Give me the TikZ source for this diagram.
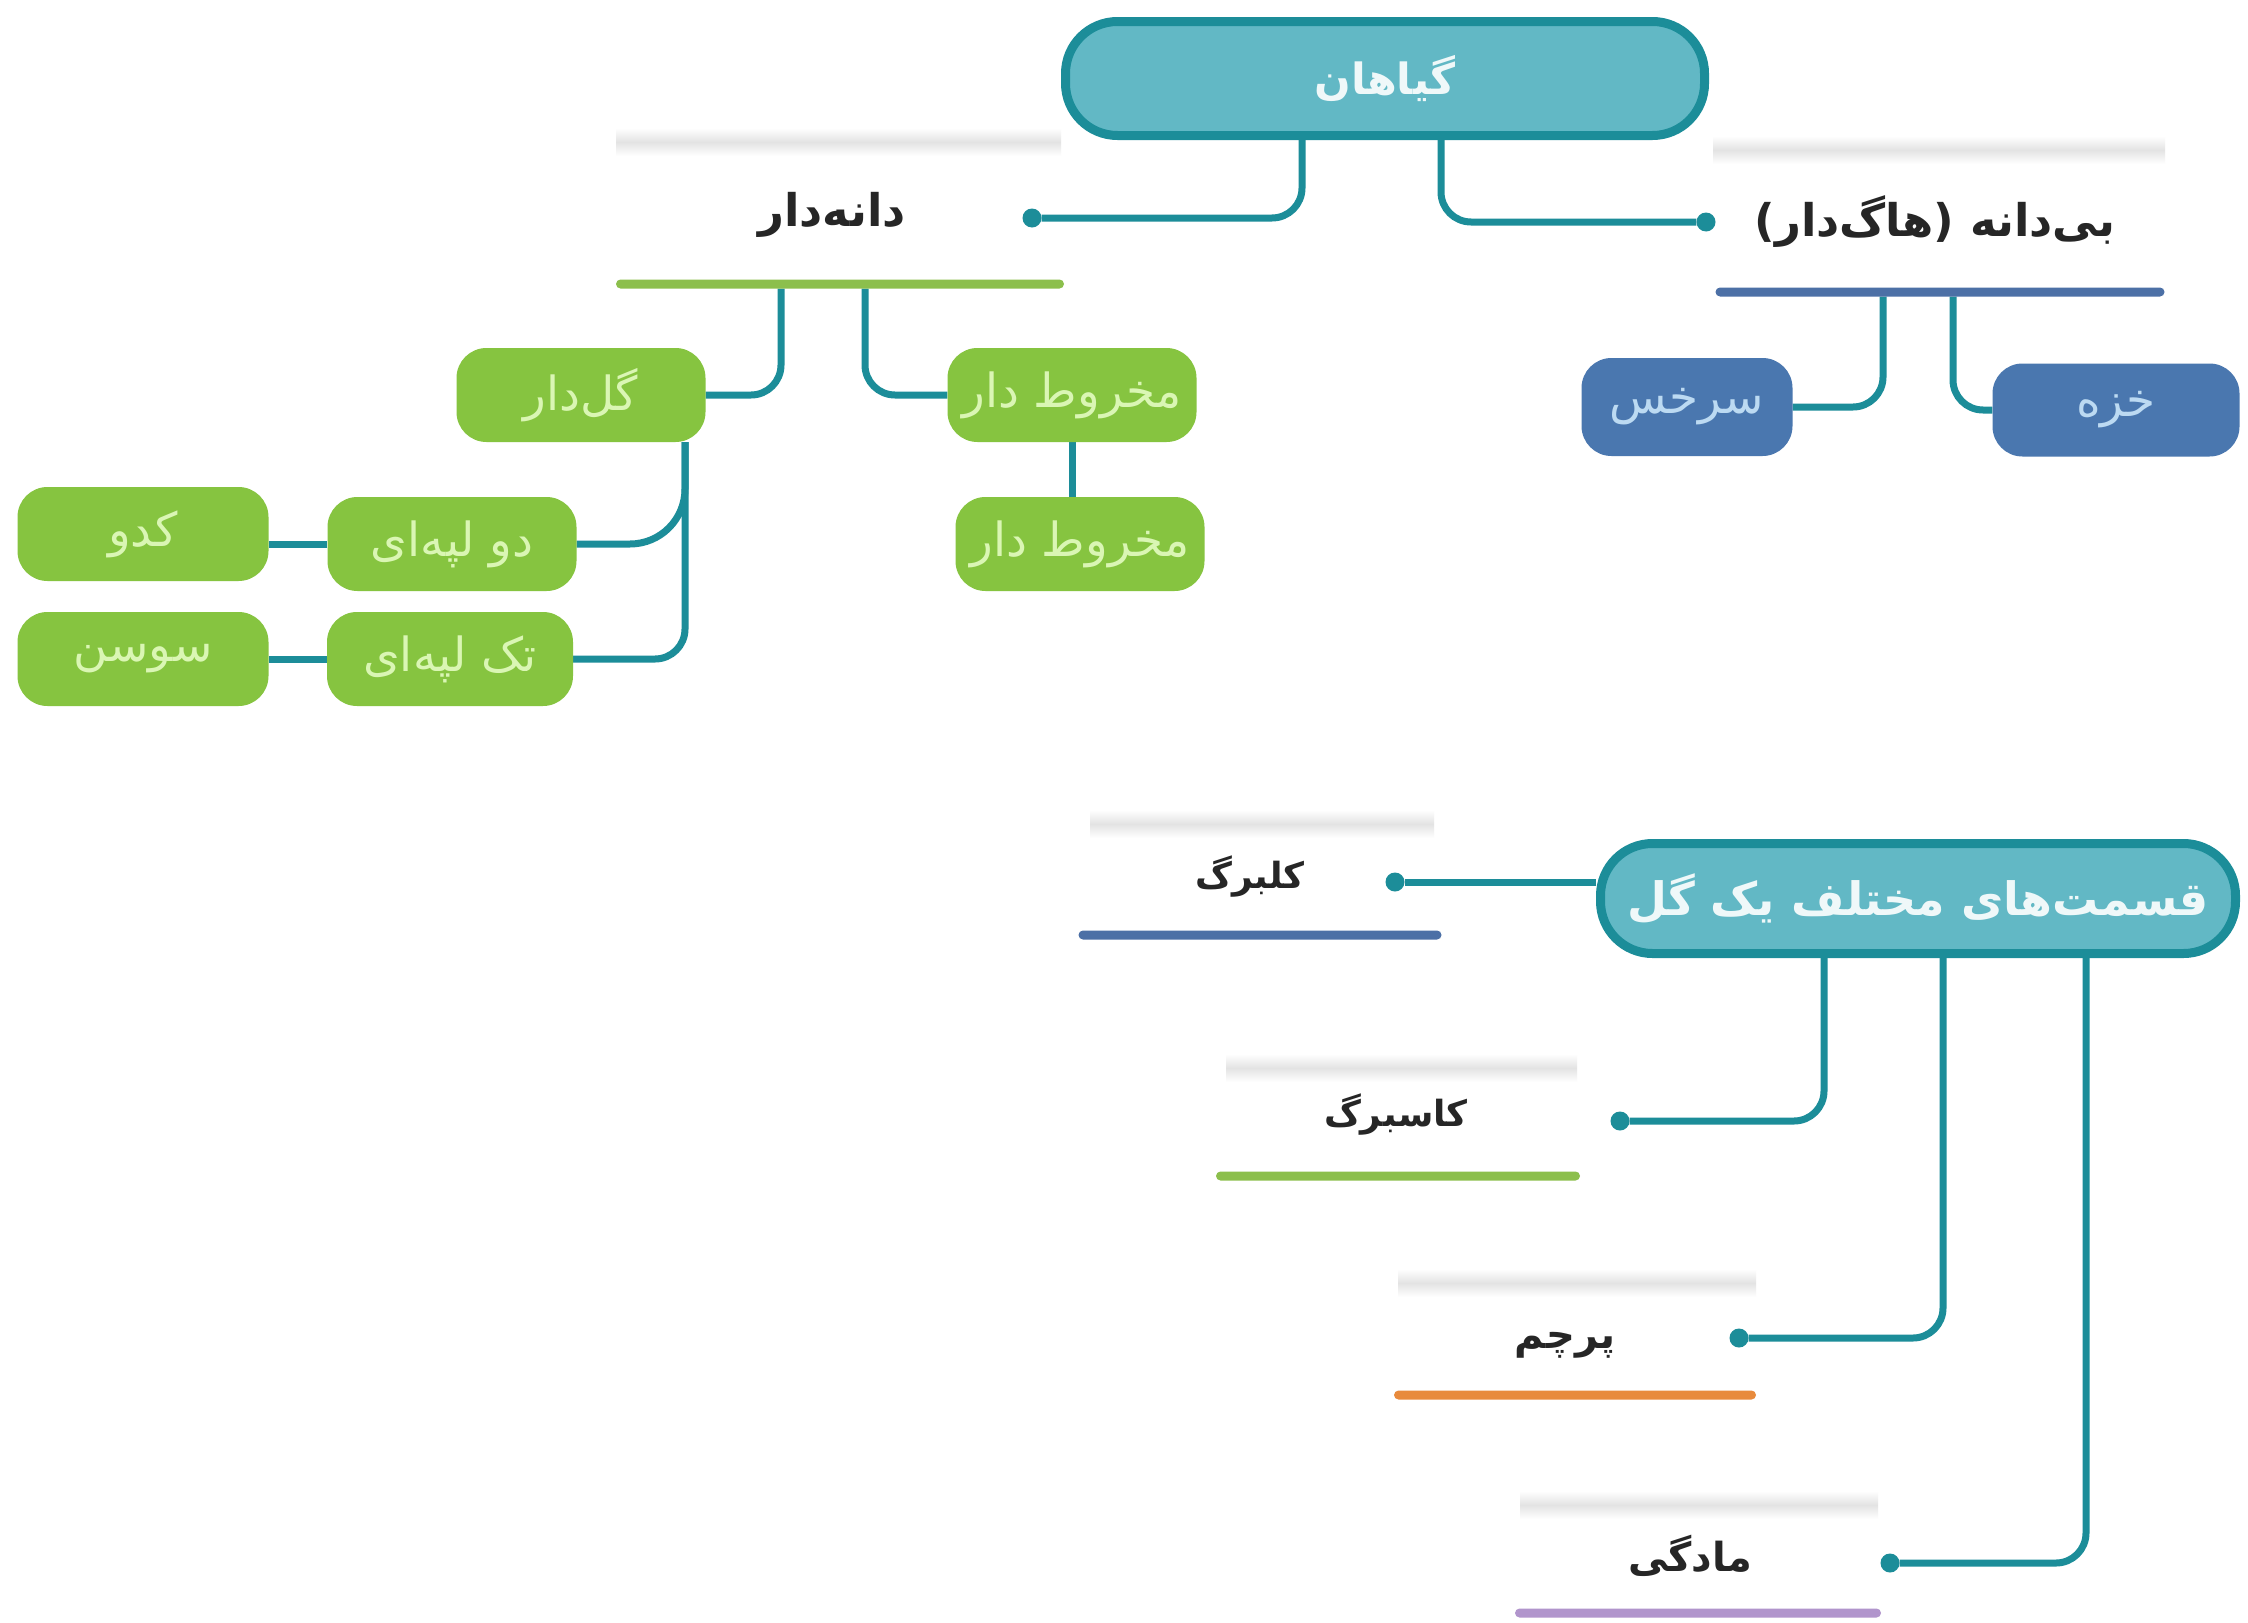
\documentclass[tikz,border=0pt]{standalone}
\usepackage{fontspec}
\usetikzlibrary{backgrounds}
\newfontfamily\fa[Script=Arabic]{DejaVu Sans}
\newfontfamily\falat{DejaVu Sans}
\TeXXeTstate=1
\definecolor{tealc}{HTML}{1C8D99}
\definecolor{tealf}{HTML}{62B8C5}
\definecolor{greenf}{HTML}{86C440}
\definecolor{greent}{HTML}{DAF6B4}
\definecolor{bluef}{HTML}{4A77AF}
\definecolor{bluet}{HTML}{BCDAF2}
\definecolor{gline}{HTML}{8CBF4C}
\definecolor{bline}{HTML}{4C70A6}
\definecolor{oline}{HTML}{E88A3C}
\definecolor{pline}{HTML}{B195CC}
\begin{document}
\begin{tikzpicture}[x=1pt,y=-1pt,
 conn/.style={draw=tealc, line width=7pt, rounded corners=30pt},
 enddot/.style={circle, fill=tealc, inner sep=0pt, minimum size=19pt},
 mainbox/.style={draw=tealc, line width=9pt, fill=tealf, rounded corners=52pt, text=white!90!tealf, font=\fa\bfseries\fontsize{46}{55}\selectfont, inner sep=0pt},
 gbox/.style={fill=greenf, rounded corners=30pt, minimum width=249pt, minimum height=94pt, text=greent, font=\fa\fontsize{47}{56}\selectfont, inner sep=0pt},
 bbox/.style={gbox, fill=bluef, text=bluet},
 lbl/.style={text=black!85, font=\fa\bfseries\fontsize{40}{48}\selectfont, inner sep=0pt},
 biglbl/.style={lbl, font=\fa\bfseries\fontsize{45}{54}\selectfont},
 smalllbl/.style={lbl, font=\fa\bfseries\fontsize{36}{44}\selectfont},
 uline/.style={inner sep=0pt, minimum height=9pt, rounded corners=4.5pt},
 shadowband/.style={top color=white, bottom color=white, middle color=black!11, draw=none}
]
\useasboundingbox (0,0) rectangle (2248,1622);

% main boxes
\node[mainbox, minimum width=639pt, minimum height=114pt, font=\fa\bfseries\fontsize{43}{52}\selectfont] (top) at (1385,78.5) {گیاهان};
\node[mainbox, minimum width=635pt, minimum height=110pt] (flower) at (1918,898.5) {\beginR قسمت^^^^200cهای مختلف یک گل\endR};

% seed branch
\node[biglbl] (seed) at (832,215) {دانه^^^^200cدار};
\node[enddot] (dotSeed) at (1032,218) {};
\node[uline, fill=gline, minimum width=448pt] (gl) at (840,284) {};
\node[gbox] (gol) at (581,395) {گل^^^^200cدار};
\node[gbox] (makh1) at (1072,395) {\beginR مخروط دار\endR};
\node[gbox] (makh2) at (1080,544) {\beginR مخروط دار\endR};
\node[gbox] (do) at (452,544) {\beginR دو لپه^^^^200cای\endR};
\node[gbox, minimum width=251pt] (kadu) at (143,534) {کدو};
\node[gbox, minimum width=246pt] (tak) at (450,659) {\beginR تک لپه^^^^200cای\endR};
\node[gbox, minimum width=251pt] (susan) at (143,659) {سوسن};

% seedless branch
\node[biglbl] (noseed) at (1935,222) {{\falat\bfseries(}هاگ^^^^200cدار{\falat\bfseries)} بی^^^^200cدانه};
\node[enddot] (dotNo) at (1706,222) {};
\node[uline, fill=bline, minimum width=449pt] (bl) at (1940,292) {};
\node[bbox, minimum width=211pt, minimum height=98pt] (sarkhas) at (1687,407) {سرخس};
\node[bbox, minimum width=247pt, minimum height=93pt] (khaze) at (2116,410) {خزه};

% flower parts
\node[smalllbl] (kal) at (1250,877) {کلبرگ};
\node[enddot] (dotKal) at (1395,882) {};
\node[uline, fill=bline, minimum width=363pt] (kalL) at (1260,935) {};
\node[smalllbl] (kas) at (1396,1115) {کاسبرگ};
\node[enddot] (dotKas) at (1620,1121) {};
\node[uline, fill=gline, minimum width=364pt] (kasL) at (1398,1176) {};
\node[lbl] (par) at (1565,1345) {پرچم};
\node[enddot] (dotPar) at (1739,1338) {};
\node[uline, fill=oline, minimum width=362pt] (parL) at (1575,1395) {};
\node[lbl] (mad) at (1690,1556) {مادگی};
\node[enddot] (dotMad) at (1890,1563) {};
\node[uline, fill=pline, minimum width=366pt] (madL) at (1698,1613) {};

\begin{scope}[on background layer]
 \fill[white] (0,0) rectangle (2248,1622);
 \shade[shadowband] (616,128) rectangle (1061,156);
 \shade[shadowband] (1713,136) rectangle (2165,164);
 \shade[shadowband] (1090,810) rectangle (1434,838);
 \shade[shadowband] (1226,1054) rectangle (1577,1082);
 \shade[shadowband] (1398,1269) rectangle (1756,1297);
 \shade[shadowband] (1520,1491) rectangle (1878,1519);
 % connectors
 \draw[conn] ([xshift=-83pt]top.south) |- (dotSeed);
 \draw[conn] ([xshift=56pt]top.south) |- (dotNo);
 \draw[conn] ([xshift=-59pt]gl.south) |- (gol.east);
 \draw[conn] ([xshift=25pt]gl.south) |- (makh1.west);
 \draw[conn] (makh1.south) -- (makh1.south |- makh2.north);
 \draw[conn, rounded corners=55pt] ([xshift=104pt]gol.south) |- (do.east);
 \draw[conn] ([xshift=104pt]gol.south) |- (tak.east);
 \draw[conn] (do.west) -- (do.west -| kadu.east);
 \draw[conn] (tak.west) -- (susan.east);
 \draw[conn] ([xshift=-57pt]bl.south) |- (sarkhas.east);
 \draw[conn] ([xshift=13pt]bl.south) |- (khaze.west);
 \draw[conn] (dotKal) -- (dotKal -| flower.west);
 \draw[conn] ([xshift=-94pt]flower.south) |- (dotKas);
 \draw[conn] ([xshift=25pt]flower.south) |- (dotPar);
 \draw[conn] ([xshift=168pt]flower.south) |- (dotMad);
\end{scope}
\end{tikzpicture}
\end{document}
